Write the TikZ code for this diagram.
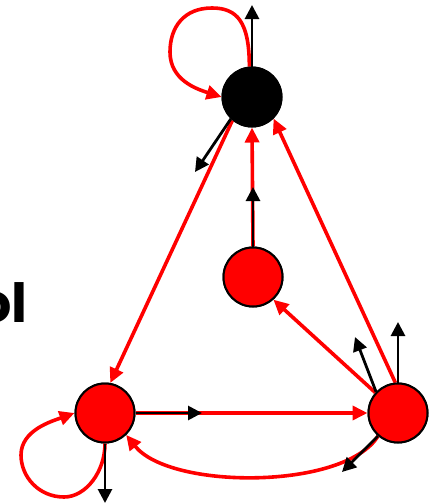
\documentclass[tikz,border=0pt]{standalone}
\usepackage{fontspec}
\newfontfamily\popfont{Poppins}
\usetikzlibrary{arrows.meta}
\definecolor{pred}{RGB}{255,0,0}
\begin{document}
\begin{tikzpicture}[x=1pt,y=-1pt,
  state/.style={circle,draw=black,line width=2pt,minimum size=59pt,inner sep=0pt},
  redge/.style={draw=pred,line width=3.6pt,-{Triangle[length=15pt,width=14pt]}},
  bedge/.style={draw=black,line width=2.8pt,-{Triangle[length=14pt,width=14pt]}}]
\useasboundingbox (0,0) rectangle (437,504);
\clip (0,0) rectangle (437,504);
\fill[white] (0,0) rectangle (437,504);
% text fragment
\node[anchor=base east,inner sep=0pt,font=\popfont\bfseries\fontsize{54}{60}\selectfont] (txt) at (28,322) {ol};
% nodes
\node[state,fill=black] (B) at (252,97) {};
\node[state,fill=pred] (M) at (253,277) {};
\node[state,fill=pred] (L) at (105,413) {};
\node[state,fill=pred] (R) at (398,413) {};
% free end coordinates
\coordinate (bt) at (252,5);
\coordinate (bl) at (195,172);
\coordinate (mt) at (253,187);
\coordinate (rt) at (398,322);
\coordinate (rul) at (355,337);
\coordinate (rll) at (342,472);
\coordinate (lb) at (105,503);
\coordinate (lr) at (202,413);
% red edges
\draw[redge] (M.north) -- (B.south);
\draw[redge] (R.95) -- (B.-45);
\draw[redge] (B.230) -- (L.80);
\draw[redge] (R.138) -- (M.-48);
\draw[redge] (L.east) -- (R.west);
\draw[redge] (R.229) .. controls (345,490) and (170,490) .. (L.-46);
\draw[redge] (B.95) .. controls +(0,-45) and +(25,0) .. (212,8)
  .. controls +(-28,0) and +(0,-25) .. (170,52)
  .. controls +(0,28) and +(-25,-8) .. (B.180);
\draw[redge] (L.270) .. controls +(0,28) and +(22,0) .. (64,497)
  .. controls +(-25,0) and +(0,22) .. (21,455)
  .. controls +(0,-25) and +(-22,8) .. (L.180);
% black edges
\draw[bedge] (B.north) -- (bt);
\draw[bedge] (B.226) -- (bl);
\draw[bedge] (M.north) -- (mt);
\draw[bedge] (R.north) -- (rt);
\draw[bedge] (R.136) -- (rul);
\draw[bedge] (R.229) -- (rll);
\draw[bedge] (L.south) -- (lb);
\draw[bedge] (L.east) -- (lr);
% redraw nodes on top
\node[state,fill=black] at (B) {};
\node[state,fill=pred] at (M) {};
\node[state,fill=pred] at (L) {};
\node[state,fill=pred] at (R) {};
\end{tikzpicture}
\end{document}
